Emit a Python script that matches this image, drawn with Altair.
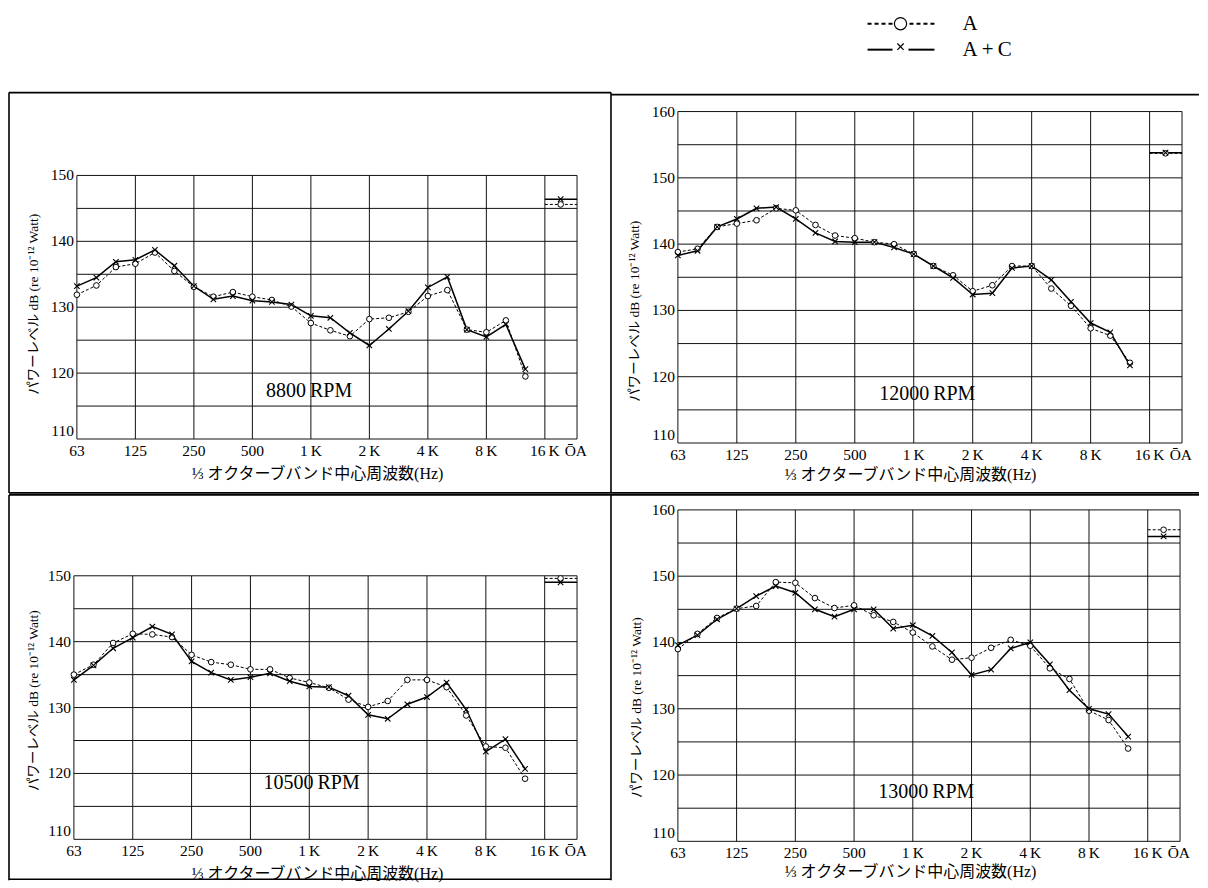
import altair as alt
import pandas as pd

# ---------------- data ----------------
bands = ["63", "80", "100", "125", "160", "200", "250", "315", "400", "500", "630", "800",
         "1K", "1.25K", "1.6K", "2K", "2.5K", "3.15K", "4K", "5K", "6.3K", "8K", "10K", "12.5K"]

tick_labels = ["63", "125", "250", "500", "1\u2009K", "2\u2009K", "4\u2009K", "8\u2009K", "16\u2009K"]
oa_label = "ŌA"
series_names = ["A", "A+C"]
rpm_labels = ["8800\u2009RPM", "12000\u2009RPM", "10500\u2009RPM", "13000\u2009RPM"]

a_8800 = [131.9, 133.3, 136.1, 136.6, 138.3, 135.5, 133.1, 131.6, 132.3, 131.6, 131.1, 130.1,
          127.6, 126.5, 125.6, 128.2, 128.4, 129.3, 131.7, 132.6, 126.6, 126.2, 128.0, 119.5]
ac_8800 = [133.2, 134.5, 136.9, 137.2, 138.7, 136.3, 133.2, 131.2, 131.7, 131.0, 130.8, 130.4,
           128.7, 128.4, 126.1, 124.2, 126.7, 129.4, 133.0, 134.6, 126.6, 125.5, 127.4, 120.6]
oa_8800 = [145.6, 146.4]

a_12000 = [138.8, 139.3, 142.6, 143.1, 143.6, 145.4, 145.1, 142.9, 141.3, 140.9, 140.3, 140.0,
           138.5, 136.7, 135.3, 132.9, 133.8, 136.7, 136.7, 133.3, 130.7, 127.3, 126.2, 122.1]
ac_12000 = [138.3, 139.0, 142.6, 143.8, 145.4, 145.6, 143.8, 141.7, 140.4, 140.3, 140.3, 139.5,
            138.5, 136.7, 134.9, 132.4, 132.6, 136.4, 136.7, 134.6, 131.3, 128.1, 126.7, 121.7]
oa_12000 = [153.7, 153.8]

a_10500 = [135.0, 136.5, 139.8, 141.2, 141.1, 140.7, 138.0, 136.9, 136.5, 135.8, 135.8, 134.5,
           133.8, 133.0, 131.2, 130.1, 131.0, 134.2, 134.2, 133.1, 128.8, 124.1, 123.9, 119.2]
ac_10500 = [134.2, 136.4, 139.0, 140.6, 142.3, 141.1, 137.0, 135.3, 134.2, 134.6, 135.2, 134.0,
            133.2, 133.1, 131.8, 128.9, 128.3, 130.5, 131.6, 133.8, 129.7, 123.3, 125.2, 120.7]
oa_10500 = [149.6, 149.0]

a_13000 = [139.0, 141.3, 143.7, 145.1, 145.5, 149.1, 149.0, 146.7, 145.2, 145.6, 144.1, 143.1,
           141.5, 139.4, 137.4, 137.7, 139.2, 140.4, 139.5, 136.1, 134.5, 129.7, 128.3, 124.0]
ac_13000 = [139.6, 141.1, 143.5, 145.1, 147.0, 148.5, 147.5, 145.0, 143.9, 145.0, 145.0, 142.1,
            142.6, 141.0, 138.5, 135.1, 135.9, 139.1, 140.0, 136.7, 132.8, 130.0, 129.2, 125.8]
oa_13000 = [157.0, 156.0]

x_title = "⅓ オクターブバンド中心周波数(Hz)"
y_title = "パワーレベル dB (re 10⁻¹² Watt)"

# ---------------- style ----------------
SERIF = "Liberation Serif, DejaVu Serif, serif"
MIXED = "Liberation Serif, Noto Sans CJK JP, sans-serif"
OA_END = 8.55      # right edge of the OA column (octaves from 63 Hz)
OA_MID = 8.27
CROSS = "M-1,-1L1,1M-1,1L1,-1"
one = pd.DataFrame({"k": [0]})


def border(x1, x2, y1, y2):
    enc = {"x": alt.value(x1), "y": alt.value(y1)}
    if x2 is not None:
        enc["x2"] = alt.value(x2)
    if y2 is not None:
        enc["y2"] = alt.value(y2)
    return alt.Chart(one).mark_rule(color="black", strokeWidth=1.6).encode(**enc)


def panel(rpm, a_vals, ac_vals, oa_vals, ymax, g):
    xs = alt.Scale(domain=[0, OA_END], range=[g["xl"], g["xr"]], nice=False, zero=False)
    ys = alt.Scale(domain=[110, ymax], range=[g["yb"], g["yt"]], nice=False, zero=False)

    def X(f):
        return alt.X(f, type="quantitative", scale=xs, axis=None)

    def Y(f):
        return alt.Y(f, type="quantitative", scale=ys, axis=None)

    hgrid = pd.DataFrame({"y": list(range(110, ymax + 1, 5))})
    hgrid["x0"] = 0.0
    hgrid["x1"] = OA_END
    vgrid = pd.DataFrame({"x": [float(i) for i in range(9)] + [OA_END]})
    vgrid["y0"] = 110
    vgrid["y1"] = ymax

    df = pd.DataFrame({"x": [i / 3 for i in range(len(bands))], "band": bands,
                       "A": a_vals, "AC": ac_vals})
    oa = pd.DataFrame({"x0": [8.0], "x1": [OA_END], "xm": [OA_MID],
                       "A": [oa_vals[0]], "AC": [oa_vals[1]]})
    xt = pd.DataFrame({"x": [float(i) for i in range(9)] + [OA_END - 0.02],
                       "label": tick_labels + [oa_label]})
    ylab = list(range(110, ymax + 1, 10))
    yt = pd.DataFrame({"y": ylab[1:]})
    yt["label"] = yt["y"].astype(str)
    yb0 = pd.DataFrame({"y": ylab[:1], "label": [str(ylab[0])]})
    rp = pd.DataFrame({"x": [g["rx"]], "y": [g["ry"]], "t": [rpm]})

    layers = [
        alt.Chart(hgrid).mark_rule(color="#111111", strokeWidth=1).encode(
            x=X("x0"), x2="x1", y=Y("y")),
        alt.Chart(vgrid).mark_rule(color="#111111", strokeWidth=1).encode(
            x=X("x"), y=Y("y0"), y2="y1"),
        alt.Chart(df).mark_line(color="black", strokeWidth=1, strokeDash=[3, 2]).encode(
            x=X("x"), y=Y("A")),
        alt.Chart(df).mark_line(color="black", strokeWidth=1.5).encode(
            x=X("x"), y=Y("AC")),
        alt.Chart(oa).mark_rule(color="black", strokeWidth=1, strokeDash=[3, 2]).encode(
            x=X("x0"), x2="x1", y=Y("A")),
        alt.Chart(oa).mark_rule(color="black", strokeWidth=1.5).encode(
            x=X("x0"), x2="x1", y=Y("AC")),
        alt.Chart(df).mark_point(shape="circle", filled=True, fill="white", stroke="black",
                                 strokeWidth=1, size=32, opacity=1).encode(x=X("x"), y=Y("A")),
        alt.Chart(df).mark_point(shape=CROSS, filled=False, color="black",
                                 strokeWidth=1.1, size=30, opacity=1).encode(x=X("x"), y=Y("AC")),
        alt.Chart(oa).mark_point(shape="circle", filled=True, fill="white", stroke="black",
                                 strokeWidth=1, size=32, opacity=1).encode(x=X("xm"), y=Y("A")),
        alt.Chart(oa).mark_point(shape=CROSS, filled=False, color="black",
                                 strokeWidth=1.1, size=30, opacity=1).encode(x=X("xm"), y=Y("AC")),
        alt.Chart(xt).mark_text(font=SERIF, fontSize=15.5, baseline="top", color="black").encode(
            x=X("x"), y=alt.value(g["yb"] + 5), text="label:N"),
        alt.Chart(yt).mark_text(font=SERIF, fontSize=15.5, baseline="middle", align="right",
                                color="black").encode(
            y=Y("y"), x=alt.value(g["xl"] - 3), text="label:N"),
        alt.Chart(yb0).mark_text(font=SERIF, fontSize=15.5, baseline="bottom", align="right",
                                 color="black").encode(
            y=Y("y"), x=alt.value(g["xl"] - 3), text="label:N"),
        alt.Chart(rp).mark_text(font=SERIF, fontSize=20, baseline="middle", color="black").encode(
            x=X("x"), y=Y("y"), text="t:N"),
        alt.Chart(one).mark_text(text=x_title, font=MIXED, fontSize=16, baseline="middle",
                                 color="black").encode(
            x=alt.value(g["tx"]), y=alt.value(g["yb"] + g["tdy"])),
        alt.Chart(one).mark_text(text=y_title, font=MIXED, fontSize=13.5, baseline="middle",
                                 angle=270, color="black").encode(
            x=alt.value(g["ytx"]), y=alt.value(g["yty"])),
    ]
    for b in g["borders"]:
        layers.append(border(*b))
    return alt.layer(*layers).properties(width=g["W"], height=g["H"])


W_L, W_R, H_1, H_2 = 603, 589, 401, 386

g1 = dict(W=W_L, H=H_1, xl=68, xr=569, yt=83, yb=347, rx=3.97, ry=117.3,
          tx=309, tdy=35, ytx=25, yty=212,
          borders=[(0, W_L, 0, None), (0, None, 0, H_1), (W_L, None, 0, H_1), (0, W_L, H_1, None)])
g2 = dict(W=W_R, H=H_1, xl=67, xr=572, yt=19, yb=351, rx=4.23, ry=117.4,
          tx=300, tdy=32, ytx=24, yty=219,
          borders=[(0, W_R, 2, None), (0, W_R, H_1, None)])
g3 = dict(W=W_L, H=H_2, xl=65, xr=569, yt=81, yb=345, rx=4.04, ry=118.6,
          tx=309, tdy=35, ytx=25, yty=206,
          borders=[(0, W_L, 0, None), (0, None, 0, H_2), (W_L, None, 0, H_2), (0, W_L, H_2 - 1, None)])
g4 = dict(W=W_R, H=H_2, xl=67, xr=570, yt=15, yb=347, rx=4.23, ry=117.4,
          tx=300, tdy=31, ytx=26, yty=213,
          borders=[(0, W_R, 0, None)])

p1 = panel(rpm_labels[0], a_8800, ac_8800, oa_8800, 150, g1)
p2 = panel(rpm_labels[1], a_12000, ac_12000, oa_12000, 160, g2)
p3 = panel(rpm_labels[2], a_10500, ac_10500, oa_10500, 150, g3)
p4 = panel(rpm_labels[3], a_13000, ac_13000, oa_13000, 160, g4)

# ---------------- legend strip ----------------
LX0, LX1, LXM, LTX = 860, 927, 893, 955
legend = alt.layer(
    alt.Chart(one).mark_rule(color="black", strokeWidth=2, strokeDash=[4, 3]).encode(
        x=alt.value(LX0), x2=alt.value(LX1), y=alt.value(15)),
    alt.Chart(one).mark_point(shape="circle", filled=True, fill="white", stroke="black",
                              strokeWidth=1.2, size=150, opacity=1).encode(
        x=alt.value(LXM), y=alt.value(15)),
    alt.Chart(one).mark_text(text=series_names[0], font=SERIF, fontSize=21, align="left",
                             baseline="middle", color="black").encode(
        x=alt.value(LTX), y=alt.value(15)),
    alt.Chart(one).mark_rule(color="black", strokeWidth=2).encode(
        x=alt.value(LX0), x2=alt.value(LXM - 8), y=alt.value(41)),
    alt.Chart(one).mark_rule(color="black", strokeWidth=2).encode(
        x=alt.value(LXM + 8), x2=alt.value(LX1), y=alt.value(41)),
    alt.Chart(one).mark_point(shape=CROSS, filled=False, color="black",
                              strokeWidth=1.2, size=40, opacity=1).encode(
        x=alt.value(LXM), y=alt.value(38)),
    alt.Chart(one).mark_text(text=series_names[0] + "\u2009+\u2009C", font=SERIF, fontSize=21,
                             align="left", baseline="middle", color="black").encode(
        x=alt.value(LTX), y=alt.value(41)),
).properties(width=W_L + W_R, height=83)

row1 = alt.hconcat(p1, p2, spacing=0, bounds="flush")
row2 = alt.hconcat(p3, p4, spacing=0, bounds="flush")
chart = alt.vconcat(legend, row1, row2, spacing=0).properties(
    padding=0, background="white"
).configure_view(stroke=None)

chart.save("out.html", embed_options={"renderer": "svg", "actions": False})
